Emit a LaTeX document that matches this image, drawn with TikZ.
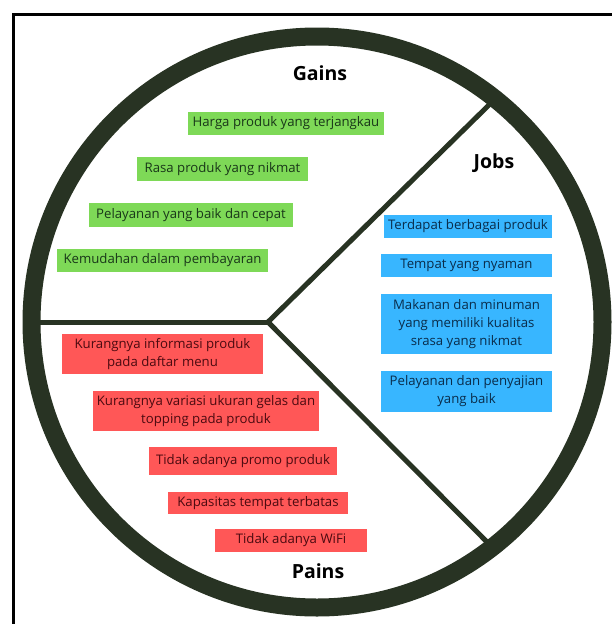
\documentclass[tikz,border=0pt]{standalone}
\usepackage{fontspec}
\setmainfont{Open Sans}
\definecolor{ringc}{RGB}{40,51,35}
\definecolor{gbox}{RGB}{126,217,87}
\definecolor{bbox}{RGB}{56,182,255}
\definecolor{rbox}{RGB}{255,87,87}
\definecolor{gtext}{RGB}{25,55,25}
\definecolor{btext}{RGB}{10,45,75}
\definecolor{rtext}{RGB}{75,10,16}
\begin{document}
\begin{tikzpicture}[x=1pt,y=-1pt,
  boxbase/.style={rectangle, inner sep=0pt, align=center, font=\fontsize{13.2}{18}\selectfont},
  gainbox/.style={boxbase, fill=gbox, text=gtext},
  jobbox/.style={boxbase, fill=bbox, text=btext},
  painbox/.style={boxbase, fill=rbox, text=rtext},
  title/.style={font=\fontsize{19.5}{21}\selectfont\bfseries, text=black},
  divider/.style={ringc, line width=5pt}
]
\useasboundingbox (0,0) rectangle (611,624);
\fill[white] (0,0) rectangle (611,624);
% frame
\draw[line width=3pt, black] (13.5,630) -- (13.5,14.5) -- (620,14.5);
% ring
\coordinate (C) at (317,322);
\draw[ringc, line width=18pt] (C) circle [radius=285.5pt];
% dividers
\coordinate (J) at (268,322);
\coordinate (L) at (32,322);
\coordinate (TR) at (492,102);
\coordinate (BR) at (490,545);
\draw[divider] (L) -- (J);
\draw[divider, line cap=butt] (J) -- (TR);
\draw[divider] (J) -- (BR);
% titles
\node[title] (gains) at (320,73) {Gains};
\node[title] (jobs) at (494,163) {Jobs};
\node[title] (pains) at (318,571) {Pains};
% gains
\node[gainbox, minimum width=196pt, minimum height=23pt] (g1) at (286,123.5) {Harga produk yang terjangkau};
\node[gainbox, minimum width=171pt, minimum height=24pt] (g2) at (222.5,169) {Rasa produk yang nikmat};
\node[gainbox, minimum width=204pt, minimum height=24pt] (g3) at (191,215) {Pelayanan yang baik dan cepat};
\node[gainbox, minimum width=211pt, minimum height=23pt] (g4) at (162.5,260.5) {Kemudahan dalam pembayaran};
% jobs
\node[jobbox, minimum width=168pt, minimum height=23pt] (j1) at (468,226.5) {Terdapat berbagai produk};
\node[jobbox, minimum width=171pt, minimum height=23pt] (j2) at (466.5,265.5) {Tempat yang nyaman};
\node[jobbox, minimum width=171pt, minimum height=60pt] (j3) at (466.5,324) {Makanan dan minuman\\yang memiliki kualitas\\srasa yang nikmat};
\node[jobbox, minimum width=171pt, minimum height=41pt] (j4) at (466.5,391.5) {Pelayanan dan penyajian\\yang baik};
% pains
\node[painbox, minimum width=201pt, minimum height=40pt] (p1) at (162.5,354) {Kurangnya informasi produk\\pada daftar menu};
\node[painbox, minimum width=226pt, minimum height=40pt] (p2) at (206,411) {Kurangnya variasi ukuran gelas dan\\topping pada produk};
\node[painbox, minimum width=188pt, minimum height=28pt] (p3) at (243,461) {Tidak adanya promo produk};
\node[painbox, minimum width=180pt, minimum height=22pt] (p4) at (258,503) {Kapasitas tempat terbatas};
\node[painbox, minimum width=152pt, minimum height=23pt] (p5) at (291,540.5) {Tidak adanya WiFi};
\end{tikzpicture}
\end{document}
